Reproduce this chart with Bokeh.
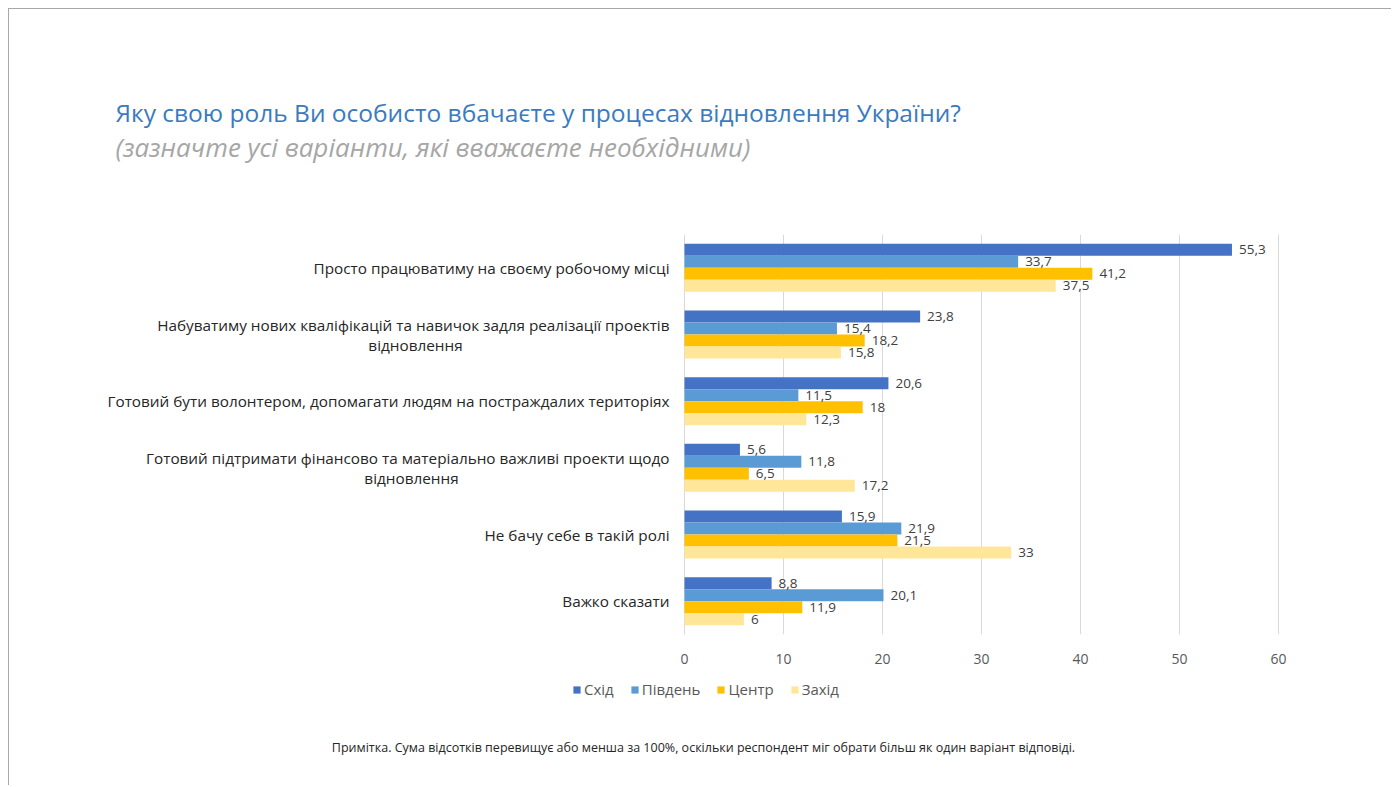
from bokeh.plotting import figure
from bokeh.layouts import column
from bokeh.models import (ColumnDataSource, FactorRange, Range1d, LabelSet, Label,
                          Legend, LegendItem, FixedTicker)
from bokeh.core.properties import value
from bokeh.transform import dodge
from bokeh.embed import file_html
from bokeh.resources import INLINE

# ---------------- data ----------------
cat_line1 = [
    "Просто працюватиму на своєму робочому місці",
    "Набуватиму нових кваліфікацій та навичок задля реалізації проектів",
    "Готовий бути волонтером, допомагати людям на постраждалих територіях",
    "Готовий підтримати фінансово та матеріально важливі проекти щодо",
    "Не бачу себе в такій ролі",
    "Важко сказати",
]
cat_line2 = ["", "відновлення", "", "відновлення", "", ""]
categories = [(a + " " + b).strip() for a, b in zip(cat_line1, cat_line2)]

series_names = ["Схід", "Південь", "Центр", "Захід"]
east = [55.3, 23.8, 20.6, 5.6, 15.9, 8.8]
south = [33.7, 15.4, 11.5, 11.8, 21.9, 20.1]
centre = [41.2, 18.2, 18, 6.5, 21.5, 11.9]
west = [37.5, 15.8, 12.3, 17.2, 33, 6]
series_values = [east, south, centre, west]
series_colors = ["#4472C4", "#5B9BD5", "#FFC000", "#FFE699"]

x_ticks = [0, 10, 20, 30, 40, 50, 60]

title = "Яку свою роль Ви особисто вбачаєте у процесах відновлення України?"
subtitle = "(зазначте усі варіанти, які вважаєте необхідними)"
note = ("Примітка. Сума відсотків перевищує або менша за 100%, оскільки респондент "
        "міг обрати більш як один варіант відповіді.")

# ---------------- layout (page pixels) ----------------
W = 1382
OFF = 9                      # page offset of canvas (margin + border)
FX0, FX1 = 684, 1278         # x=0 and x=60 on page
FY0, FY1 = 234, 634          # chart frame top/bottom on page
AXIS_H = 40                  # room under the chart for the tick labels
H_TOP = FY0 - OFF
H_BOT = 776 - H_TOP - (FY1 - FY0) - AXIS_H
Y_BOT0 = FY1 + AXIS_H        # page y where the bottom strip starts
XMAX = 60
PXX = (FX1 - FX0) / XMAX
FONT = "Open Sans"


def fmt(v):
    s = ("%.1f" % v).rstrip("0").rstrip(".")
    return s.replace(".", ",")


def blank(h):
    f = figure(width=W, height=h, output_backend="svg", toolbar_location=None,
               x_range=Range1d(0, W), y_range=Range1d(h, 0),
               x_axis_location=None, y_axis_location=None,
               min_border_left=0, min_border_right=0, min_border_top=0, min_border_bottom=0)
    f.outline_line_color = None
    f.xgrid.visible = False
    f.ygrid.visible = False
    f.background_fill_color = "white"
    f.border_fill_color = "white"
    return f


# ---------- top strip: title + subtitle ----------
top = blank(H_TOP)
top.add_layout(Label(x=115 - OFF, y=112 - OFF, text=title, text_baseline="middle",
                     text_font=FONT, text_font_size="24.5px", text_color="#3A7BC0"))
top.add_layout(Label(x=115 - OFF, y=146 - OFF, text=subtitle, text_baseline="middle",
                     text_font=FONT, text_font_size="26px", text_font_style="italic",
                     text_color="#A6A6A6"))

# ---------- chart ----------
p = figure(frame_width=W, frame_height=FY1 - FY0, output_backend="svg", toolbar_location=None,
           y_range=FactorRange(factors=list(reversed(categories))),
           x_range=Range1d((OFF - FX0) / PXX, (OFF + W - FX0) / PXX),
           y_axis_location=None,
           min_border_left=0, min_border_right=0,
           min_border_top=0, min_border_bottom=AXIS_H)
p.outline_line_color = None
p.background_fill_color = "white"
p.border_fill_color = "white"

bar_h = 0.18
offsets = [1.5 * bar_h, 0.5 * bar_h, -0.5 * bar_h, -1.5 * bar_h]
sources = []
for name, vals, col, off in zip(series_names, series_values, series_colors, offsets):
    src = ColumnDataSource(dict(cat=categories, value=vals, label=[fmt(v) for v in vals],
                                idx=list(range(len(vals)))))
    sources.append(src)
    p.hbar(y=dodge("cat", off, range=p.y_range), right="value", left=0,
           height=bar_h, source=src, fill_color=col, line_color=None)
    p.add_layout(LabelSet(x="value", y=dodge("cat", off, range=p.y_range), text="label",
                          source=src, x_offset=7, text_baseline="middle",
                          text_font=value(FONT), text_font_size="13.5px",
                          text_color="#404040", background_fill_color="white"))

two = [1 if b else 0 for b in cat_line2]
lab_src = ColumnDataSource(dict(cat=categories, t1=cat_line1, t2=cat_line2,
                                zero=[0] * len(categories),
                                yoff1=[-10 * t for t in two],
                                yoff2=[10 * t for t in two],
                                xoff2=[-269, -269, -269, -273, -269, -269]))
p.text(x="zero", y="cat", text="t1", source=lab_src, x_offset=-15, y_offset="yoff1",
       text_align="right", text_baseline="middle", text_font=value(FONT),
       text_font_size="15.3px", text_color="#262626")
p.text(x="zero", y="cat", text="t2", source=lab_src, x_offset="xoff2", y_offset="yoff2",
       text_align="center", text_baseline="middle", text_font=value(FONT),
       text_font_size="15.3px", text_color="#262626")

p.ygrid.grid_line_color = None
p.xgrid.grid_line_color = "#D9D9D9"
p.xgrid.ticker = FixedTicker(ticks=x_ticks)
xa = p.xaxis[0]
xa.ticker = FixedTicker(ticks=x_ticks)
xa.axis_line_color = None
xa.major_tick_line_color = None
xa.minor_tick_line_color = None
xa.major_label_standoff = 13
xa.major_label_text_font = FONT
xa.major_label_text_font_size = "14px"
xa.major_label_text_color = "#595959"

# ---------- bottom strip: legend + note ----------
bot = blank(H_BOT)
items = []
for name, col, src in zip(series_names, series_colors, sources):
    # hidden copy of the series, used only to draw its legend swatch
    r = bot.hbar(y="idx", right="value", left=0, height=0.5, source=src,
                 fill_color=col, line_color=None, visible=False)
    items.append(LegendItem(label=name, renderers=[r]))
LEG_H = 18
legend = Legend(items=items, orientation="horizontal",
                location=(572 - OFF, H_BOT - (690 - Y_BOT0) - LEG_H / 2),
                glyph_width=9, glyph_height=9, label_standoff=3, spacing=16,
                padding=0, margin=0, label_height=LEG_H,
                label_text_font=FONT, label_text_font_size="15px",
                label_text_color="#595959", border_line_color=None,
                background_fill_alpha=0, inactive_fill_alpha=0)
bot.add_layout(legend, "center")
bot.add_layout(Label(x=703 - OFF, y=747 - Y_BOT0, text=note, text_align="center",
                     text_baseline="middle", text_font=FONT, text_font_size="12.5px",
                     text_color="#262626"))

page = column(top, p, bot, spacing=0,
              styles={"margin-left": "8px", "margin-top": "8px",
                      "border-top": "1px solid #A8A8A8", "border-left": "1px solid #A8A8A8"})

open("out.html", "w").write(file_html(page, INLINE))
